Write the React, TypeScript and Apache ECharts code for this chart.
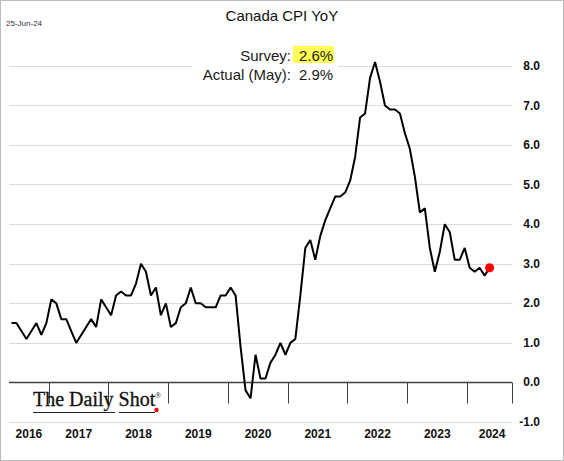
import React, { useEffect, useRef } from "react";
import * as echarts from "echarts";

// Canada CPI YoY (%), monthly, May 2016 - May 2024
const cpi2016 = [1.5, 1.5, 1.3, 1.1, 1.3, 1.5, 1.2, 1.5]; // May-Dec
const cpi2017 = [2.1, 2.0, 1.6, 1.6, 1.3, 1.0, 1.2, 1.4, 1.6, 1.4, 2.1, 1.9];
const cpi2018 = [1.7, 2.2, 2.3, 2.2, 2.2, 2.5, 3.0, 2.8, 2.2, 2.4, 1.7, 2.0];
const cpi2019 = [1.4, 1.5, 1.9, 2.0, 2.4, 2.0, 2.0, 1.9, 1.9, 1.9, 2.2, 2.2];
const cpi2020 = [2.4, 2.2, 0.9, -0.2, -0.4, 0.7, 0.1, 0.1, 0.5, 0.7, 1.0, 0.7];
const cpi2021 = [1.0, 1.1, 2.2, 3.4, 3.6, 3.1, 3.7, 4.1, 4.4, 4.7, 4.7, 4.8];
const cpi2022 = [5.1, 5.7, 6.7, 6.8, 7.7, 8.1, 7.6, 7.0, 6.9, 6.9, 6.8, 6.3];
const cpi2023 = [5.9, 5.2, 4.3, 4.4, 3.4, 2.8, 3.3, 4.0, 3.8, 3.1, 3.1, 3.4];
const cpi2024 = [2.9, 2.8, 2.9, 2.7, 2.9]; // Jan-May

const cpi = [
  ...cpi2016, ...cpi2017, ...cpi2018, ...cpi2019, ...cpi2020,
  ...cpi2021, ...cpi2022, ...cpi2023, ...cpi2024,
];

// Monthly categories May 2016 .. Sep 2024
const startYear = 2016;
const startMonth = 5;
const monthCount = 101;
const categories: string[] = [];
for (let i = 0; i < monthCount; i++) {
  const m = startMonth - 1 + i;
  const y = startYear + Math.floor(m / 12);
  const mm = (m % 12) + 1;
  categories.push(`${y}-${mm < 10 ? "0" + mm : mm}`);
}

const yearLabelMonths = [
  "2016-09", "2017-07", "2018-07", "2019-07", "2020-07",
  "2021-07", "2022-07", "2023-07", "2024-06",
];

const yTicks = { min: -1, max: 8, interval: 1 };

const titleText = "Canada CPI YoY";
const dateText = "25-Jun-24";
const surveyLabel = "Survey:";
const surveyValue = "2.6%";
const actualLabel = "Actual (May):";
const actualValue = "2.9%";

const SANS = "'Liberation Sans', Arial, sans-serif";
const SERIF = "'Liberation Serif', 'Times New Roman', serif";

export default function App() {
  const ref = useRef<HTMLDivElement>(null);

  useEffect(() => {
    if (!ref.current) return;
    const chart = echarts.init(ref.current, null, { renderer: "svg" });
    const lastIdx = cpi.length - 1;
    chart.setOption({
      animation: false,
      backgroundColor: "#ffffff",
      grid: { left: 9, right: 52, top: 66, bottom: 39, containLabel: false },
      xAxis: {
        type: "category",
        data: categories,
        boundaryGap: true,
        axisLine: { show: false },
        axisTick: {
          show: true,
          interval: (_i: number, v: string) => v.endsWith("-01"),
          length: 21,
          lineStyle: { color: "#404040", width: 1 },
        },
        axisLabel: {
          interval: (_i: number, v: string) => yearLabelMonths.includes(v),
          formatter: (v: string) => v.slice(0, 4),
          fontFamily: SANS,
          fontWeight: "bold",
          fontSize: 12,
          color: "#111",
          margin: 6,
          padding: [0, 5, 0, 0],
        },
        splitLine: { show: false },
      },
      yAxis: {
        type: "value",
        position: "right",
        min: yTicks.min,
        max: yTicks.max,
        interval: yTicks.interval,
        axisLine: { show: false },
        axisTick: { show: false },
        axisLabel: {
          formatter: (v: number) => v.toFixed(1),
          align: "right",
          margin: 28,
          fontFamily: SANS,
          fontWeight: "bold",
          fontSize: 12,
          color: "#111",
        },
        splitLine: { lineStyle: { color: "#dadada", width: 1 } },
      },
      series: [
        {
          type: "line",
          data: cpi,
          symbol: "none",
          clip: false,
          lineStyle: { color: "#000", width: 2 },
          z: 3,
          markLine: {
            silent: true,
            symbol: ["none", "none"],
            label: { show: false },
            lineStyle: { color: "#404040", width: 1.3, type: "solid" },
            data: [{ yAxis: 0 }],
            z: 2,
          },
          markPoint: {
            silent: true,
            symbol: "circle",
            symbolSize: 9,
            itemStyle: { color: "#ff0000" },
            label: { show: false },
            data: [{ coord: [lastIdx, cpi[lastIdx]] }],
          },
        },
      ],
      graphic: [
        {
          type: "text",
          left: "center",
          top: 8,
          style: {
            text: titleText,
            font: `15px ${SANS}`,
            fill: "#111",
          },
        },
        {
          type: "text",
          x: 6,
          y: 23,
          style: {
            text: dateText,
            font: `8px ${SANS}`,
            fill: "#333",
            textVerticalAlign: "middle",
          },
        },
        {
          type: "rect",
          shape: { x: 192, y: 43, width: 146, height: 40 },
          style: { fill: "#ffffff" },
          z: 5,
        },
        {
          type: "rect",
          shape: { x: 293, y: 46, width: 41, height: 17 },
          style: { fill: "#ffff57" },
          z: 6,
        },
        {
          type: "text",
          x: 291,
          y: 55,
          z: 7,
          style: {
            text: surveyLabel,
            font: `15px ${SANS}`,
            fill: "#1a1a1a",
            textAlign: "right",
            textVerticalAlign: "middle",
          },
        },
        {
          type: "text",
          x: 299,
          y: 55,
          z: 7,
          style: {
            text: surveyValue,
            font: `15px ${SANS}`,
            fill: "#1a1a1a",
            textAlign: "left",
            textVerticalAlign: "middle",
          },
        },
        {
          type: "text",
          x: 291,
          y: 74,
          z: 7,
          style: {
            text: actualLabel,
            font: `15px ${SANS}`,
            fill: "#1a1a1a",
            textAlign: "right",
            textVerticalAlign: "middle",
          },
        },
        {
          type: "text",
          x: 299,
          y: 74,
          z: 7,
          style: {
            text: actualValue,
            font: `15px ${SANS}`,
            fill: "#1a1a1a",
            textAlign: "left",
            textVerticalAlign: "middle",
          },
        },
        {
          type: "text",
          x: 33,
          y: 409,
          z: 7,
          style: {
            text: "The Daily Shot",
            font: `20px ${SERIF}`,
            fill: "#111",
            stroke: "#111",
            lineWidth: 0.3,
            textVerticalAlign: "bottom",
          },
        },
        {
          type: "text",
          x: 155,
          y: 395.5,
          z: 7,
          style: {
            text: "®",
            font: `8px ${SERIF}`,
            fill: "#111",
            textVerticalAlign: "middle",
          },
        },
        {
          type: "line",
          z: 7,
          shape: { x1: 33, y1: 412.5, x2: 115, y2: 412.5 },
          style: { stroke: "#222", lineWidth: 1.2 },
        },
        {
          type: "line",
          z: 7,
          shape: { x1: 119, y1: 412.5, x2: 155, y2: 412.5 },
          style: { stroke: "#222", lineWidth: 1.2 },
        },
        {
          type: "circle",
          z: 7,
          shape: { cx: 156.5, cy: 410, r: 2.2 },
          style: { fill: "#ff0000" },
        },
      ],
    });
    return () => chart.dispose();
  }, []);

  return (
    <div style={{ position: "absolute", left: 0, top: 0, width: 564, height: 461 }}>
      <div ref={ref} style={{ width: 564, height: 461 }} />
      <div
        style={{
          position: "absolute",
          left: 0,
          top: 0,
          width: 564,
          height: 461,
          border: "1px solid #bdbdbd",
          boxSizing: "border-box",
          pointerEvents: "none",
        }}
      />
    </div>
  );
}
